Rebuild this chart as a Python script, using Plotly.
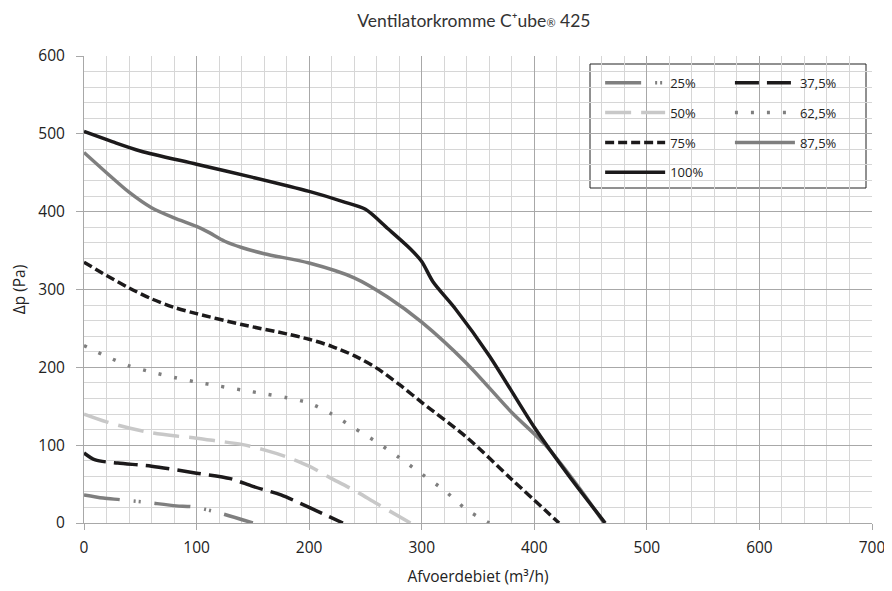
import plotly.graph_objects as go

# ---- data ----
x_100 = [0, 25, 50, 100, 150, 200, 230, 250, 270, 290, 300, 310, 330, 360, 400, 430, 463]
y_100 = [503, 490, 478, 461, 444, 426, 413, 403, 378, 352, 336, 310, 275, 215, 123, 62, 0]

x_875 = [0, 20, 40, 60, 80, 100, 110, 125, 140, 160, 200, 240, 270, 300, 340, 380, 410, 440, 462]
y_875 = [476, 450, 425, 405, 392, 381, 374, 362, 354, 346, 334, 315, 290, 258, 205, 142, 100, 45, 0]

x_75 = [0, 20, 40, 60, 80, 100, 140, 180, 200, 220, 240, 260, 280, 300, 340, 380, 422]
y_75 = [335, 318, 302, 288, 277, 269, 255, 243, 236, 227, 215, 199, 178, 155, 110, 56, 0]

x_625 = [0, 20, 40, 60, 80, 100, 120, 140, 160, 180, 200, 220, 240, 260, 280, 300, 320, 340, 360]
y_625 = [228, 214, 202, 194, 187, 181, 176, 171, 166, 161, 154, 140, 122, 104, 84, 63, 42, 17, 0]

x_50 = [0, 20, 40, 60, 80, 100, 120, 140, 160, 180, 200, 220, 240, 260, 290]
y_50 = [140, 130, 122, 116, 112, 109, 105, 101, 94, 85, 73, 57, 42, 25, 0]

x_375 = [0, 10, 30, 60, 100, 130, 150, 175, 200, 230]
y_375 = [90, 81, 77, 73, 64, 57, 47, 36, 20, 0]

x_25 = [0, 17, 32, 53, 82, 95, 115, 150]
y_25 = [36, 32, 30, 27, 22, 21, 15, 0]

labels = ["25%", "37,5%", "50%", "62,5%", "75%", "87,5%", "100%"]
x_ticks = [0, 100, 200, 300, 400, 500, 600, 700]
y_ticks = [0, 100, 200, 300, 400, 500, 600]

title_text = "Ventilatorkromme C⁺ube<span style='font-size:11px'>®</span> 425"
x_title = "Afvoerdebiet (m³/h)"
y_title = "Δp (Pa)"

# ---- styles ----
BLACK = "#1c1a1b"
GREY = "#7f7f7f"
LIGHT = "#c8c8c8"

series = [
    (x_25, y_25, labels[0], GREY, "36px,14px,2px,3px,2px,14px", "legend"),
    (x_375, y_375, labels[1], BLACK, "24px,8px", "legend2"),
    (x_50, y_50, labels[2], LIGHT, "26px,10px", "legend"),
    (x_625, y_625, labels[3], GREY, "3px,13px", "legend2"),
    (x_75, y_75, labels[4], BLACK, "9px,4px", "legend"),
    (x_875, y_875, labels[5], GREY, "solid", "legend2"),
    (x_100, y_100, labels[6], BLACK, "solid", "legend"),
]

fig = go.Figure()
for i, (xs, ys, name, col, dash, leg) in enumerate(series):
    fig.add_trace(go.Scatter(
        x=xs, y=ys, name=name, mode="lines",
        line=dict(color=col, width=3.5, dash=dash, shape="spline", smoothing=0.8),
        legend=leg, legendgroup="g%d" % i,
    ))

legend_common = dict(
    bgcolor="rgba(0,0,0,0)", borderwidth=0,
    font=dict(family="Open Sans, sans-serif", size=13, color="#222"),
    itemwidth=60, tracegroupgap=10, xanchor="left", yanchor="top",
    itemclick=False, itemdoubleclick=False,
)

W, H = 884, 583  # page body has an 8px margin in the 892x591 window
fig.update_layout(
    width=W, height=H,
    margin=dict(l=76, r=20, t=48, b=68),
    paper_bgcolor="white", plot_bgcolor="white",
    title=dict(text=title_text, x=0.527, xanchor="center", y=0.978, yanchor="middle",
               font=dict(family="Lato, sans-serif", size=17.5, color="#333")),
    showlegend=True,
    legend=dict(x=0.655, y=0.975, **legend_common),
    legend2=dict(x=0.8197, y=0.975, **legend_common),
    shapes=[dict(type="rect", xref="paper", yref="paper",
                 x0=(590 - 84) / 788, x1=(866 - 84) / 788,
                 y0=(523 - 188) / 467, y1=(523 - 64) / 467,
                 line=dict(color="#222", width=1), fillcolor="white", layer="below")],
)

axis_font = dict(family="Open Sans, sans-serif", size=15.5, color="#222")
fig.update_xaxes(
    range=[0, 700], tickvals=x_ticks, showgrid=True, gridcolor="#a8a8a8", gridwidth=1,
    minor=dict(dtick=20, showgrid=True, gridcolor="#d6d6d6", gridwidth=1),
    showline=True, linecolor="#a8a8a8", ticks="outside", ticklen=6, tickcolor="#a8a8a8",
    tickfont=axis_font, zeroline=False, ticklabelstandoff=4, automargin=False,
    title=dict(text=x_title, font=axis_font, standoff=14),
)
fig.update_yaxes(
    range=[0, 600], tickvals=y_ticks, showgrid=True, gridcolor="#a8a8a8", gridwidth=1,
    minor=dict(dtick=20, showgrid=True, gridcolor="#d6d6d6", gridwidth=1),
    showline=True, linecolor="#a8a8a8", ticks="outside", ticklen=7, tickcolor="#a8a8a8",
    tickfont=axis_font, zeroline=False, ticklabelstandoff=8, automargin=False,
    title=dict(text=y_title, font=axis_font, standoff=14),
)

fig.write_html("out.html")
